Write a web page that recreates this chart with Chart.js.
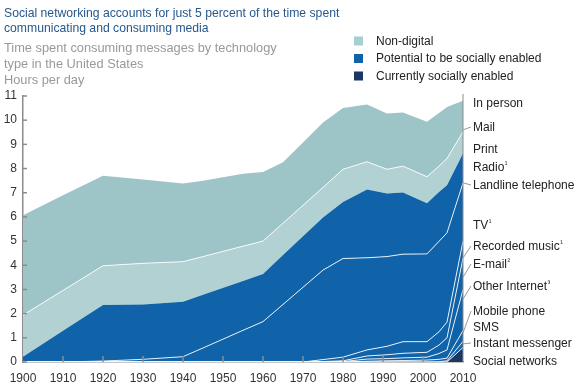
<!DOCTYPE html>
<html>
<head>
<meta charset="utf-8">
<script src="https://cdn.jsdelivr.net/npm/chart.js@4.4.1/dist/chart.umd.min.js"></script>
<style>
  html, body { margin: 0; padding: 0; background: #fff; }
  #wrap { width: 580px; height: 388px; position: relative; }
</style>
</head>
<body>
<div id="wrap"><canvas id="chart" width="580" height="388"></canvas></div>
<script>
// Hours per day (stacked, bottom to top)
var years = [1900, 1910, 1920, 1930, 1940, 1945, 1955, 1960, 1965, 1970, 1975, 1980, 1986, 1991, 1995, 2001, 2004, 2006, 2010];

var socialNetworks   = [0, 0, 0, 0, 0, 0, 0, 0, 0, 0, 0, 0, 0, 0, 0, 0, 0, 0, 0.6];
var instantMessenger = [0, 0, 0, 0, 0, 0, 0, 0, 0, 0, 0, 0, 0, 0, 0, 0, 0.01, 0.05, 0.25];
var sms              = [0, 0, 0, 0, 0, 0, 0, 0, 0, 0, 0, 0, 0.03, 0.05, 0.06, 0.08, 0.10, 0.11, 0.45];
var mobilePhone      = [0, 0, 0, 0, 0, 0, 0, 0, 0, 0, 0, 0.02, 0.09, 0.09, 0.11, 0.12, 0.24, 0.34, 1.7];
var otherInternet    = [0, 0, 0, 0, 0, 0, 0, 0, 0, 0, 0.02, 0.03, 0.13, 0.16, 0.19, 0.2, 0.35, 0.5, 1.3];
var emailAndMusic    = [0, 0, 0, 0, 0, 0, 0, 0, 0, 0, 0.08, 0.15, 0.25, 0.35, 0.48, 0.44, 0.55, 0.65, 0.7];
var tv               = [0, 0, 0.04, 0.11, 0.22, 0.58, 1.31, 1.67, 2.38, 3.09, 3.7, 4.08, 3.81, 3.71, 3.62, 3.63, 3.74, 3.69, 2.41];
var radioAndPhone    = [0.22, 1.29, 2.32, 2.27, 2.27, 2.2, 2.04, 1.97, 2.04, 2.11, 2.18, 2.34, 2.82, 2.61, 2.55, 2.09, 2.04, 1.97, 1.21];
var printAndMail     = [1.72, 1.67, 1.62, 1.7, 1.66, 1.58, 1.44, 1.36, 1.32, 1.28, 1.24, 1.35, 1.15, 1.0, 1.09, 1.1, 1.07, 1.11, 0.9];
var inPerson         = [4.13, 3.94, 3.72, 3.47, 3.23, 3.14, 2.99, 2.86, 2.52, 2.6, 2.68, 2.53, 2.37, 2.31, 2.22, 2.27, 2.2, 2.13, 1.28];

var yTicks = [0, 1, 2, 3, 4, 5, 6, 7, 8, 9, 10, 11];
var xTicks = [1900, 1910, 1920, 1930, 1940, 1950, 1960, 1970, 1980, 1990, 2000, 2010];

var titleLines = ['Social networking accounts for just 5 percent of the time spent',
                  'communicating and consuming media'];
var subtitleLines = ['Time spent consuming messages by technology',
                     'type in the United States', 'Hours per day'];

// right-hand labels: text, superscript, label y, leader target (hours at 2010) or null
var sideLabels = [
  ['In person', '', 103, null],
  ['Mail', '', 127, 9.6],
  ['Print', '', 149, null],
  ['Radio', '\u00b9', 167, null],
  ['Landline telephone', '', 185, 7.41],
  ['TV', '\u00b9', 225, null],
  ['Recorded music', '\u00b9', 246, 4.3],
  ['E-mail', '\u00b2', 264, 3.5],
  ['Other Internet', '\u00b3', 286, 2.6],
  ['Mobile phone', '', 311, 1.2],
  ['SMS', '', 327, null],
  ['Instant messenger', '', 343, 0.75],
  ['Social networks', '', 361, null]
];

var TEAL = '#9dc4c6', LIGHT_TEAL = '#b2d1d3', BLUE = '#1063a9', NAVY = '#1b3764';
var WHITE_LINE = 'rgba(255,255,255,0.85)';
var FONT = '"Liberation Sans", Arial, sans-serif';

function series(label, values, color, lineColor, lineWidth, fill) {
  return {
    label: label,
    data: years.map(function (y, i) { return { x: y, y: values[i] }; }),
    backgroundColor: color,
    borderColor: lineColor,
    borderWidth: lineWidth,
    fill: fill,
    pointRadius: 0,
    tension: 0
  };
}

var datasets = [
  series('Social networks', socialNetworks, NAVY, WHITE_LINE, 1, 'origin'),
  series('Instant messenger', instantMessenger, BLUE, WHITE_LINE, 1, '-1'),
  series('SMS', sms, BLUE, WHITE_LINE, 1, '-1'),
  series('Mobile phone', mobilePhone, BLUE, WHITE_LINE, 1, '-1'),
  series('Other Internet', otherInternet, BLUE, WHITE_LINE, 1, '-1'),
  series('E-mail / Recorded music', emailAndMusic, BLUE, WHITE_LINE, 1, '-1'),
  series('TV', tv, BLUE, WHITE_LINE, 1, '-1'),
  series('Radio / Landline telephone', radioAndPhone, BLUE, BLUE, 0, '-1'),
  series('Print / Mail', printAndMail, LIGHT_TEAL, WHITE_LINE, 1, '-1'),
  series('In person', inPerson, TEAL, TEAL, 0, '-1')
];

// inward ticks, right frame line, titles, legend and end labels
var decorations = {
  id: 'decorations',
  afterDatasetsDraw: function (chart) {
    var ctx = chart.ctx, xs = chart.scales.x, ys = chart.scales.y, a = chart.chartArea;
    ctx.save();
    ctx.strokeStyle = '#8c8c8c';
    ctx.lineWidth = 1.5;
    xTicks.forEach(function (t) {
      if (t === 1900 || t === 2010) return;
      var px = xs.getPixelForValue(t);
      ctx.beginPath(); ctx.moveTo(px, a.bottom); ctx.lineTo(px, a.bottom - 6); ctx.stroke();
    });
    yTicks.forEach(function (t) {
      var py = ys.getPixelForValue(t);
      ctx.beginPath(); ctx.moveTo(a.left, py); ctx.lineTo(a.left + 4, py); ctx.stroke();
    });
    ctx.lineWidth = 1;
    ctx.strokeStyle = '#8c8c8c';
    ctx.beginPath(); ctx.moveTo(a.right, a.top - 2); ctx.lineTo(a.right, a.bottom); ctx.stroke();

    // titles
    ctx.textBaseline = 'alphabetic';
    ctx.textAlign = 'left';
    ctx.font = '12.2px ' + FONT;
    ctx.fillStyle = '#27588c';
    ctx.fillText(titleLines[0], 4, 16.5);
    ctx.fillText(titleLines[1], 4, 32);
    ctx.font = '12.8px ' + FONT;
    ctx.fillStyle = '#999999';
    ctx.fillText(subtitleLines[0], 4, 52);
    ctx.fillText(subtitleLines[1], 4, 67.5);
    ctx.fillText(subtitleLines[2], 4, 83.5);

    // legend
    var legend = [['Non-digital', '#a6cfd2', 41], ['Potential to be socially enabled', BLUE, 58.5], ['Currently socially enabled', NAVY, 76]];
    ctx.font = '12px ' + FONT;
    ctx.textBaseline = 'middle';
    legend.forEach(function (l) {
      ctx.fillStyle = l[1];
      ctx.fillRect(354, l[2] - 4.5, 9, 9);
      ctx.fillStyle = '#222';
      ctx.fillText(l[0], 376, l[2] + 0.5);
    });

    // end labels with leader lines
    sideLabels.forEach(function (s) {
      ctx.font = '12px ' + FONT;
      ctx.fillStyle = '#222';
      ctx.fillText(s[0], 473, s[2] + 1);
      if (s[1]) {
        var w = ctx.measureText(s[0]).width;
        ctx.font = '8px ' + FONT;
        ctx.fillText(s[1], 473 + w + 0.5, s[2] - 2);
      }
      if (s[3] !== null) {
        ctx.strokeStyle = '#999';
        ctx.lineWidth = 1;
        ctx.beginPath();
        ctx.moveTo(a.right, ys.getPixelForValue(s[3]));
        ctx.lineTo(471, s[2]);
        ctx.stroke();
      }
    });
    ctx.restore();
  }
};

new Chart(document.getElementById('chart'), {
  type: 'line',
  data: { datasets: datasets },
  plugins: [decorations],
  options: {
    responsive: false,
    animation: false,
    devicePixelRatio: 1,
    layout: { padding: { top: 96, right: 117, left: 0, bottom: 0 } },
    plugins: { legend: { display: false }, tooltip: { enabled: false } },
    scales: {
      x: {
        type: 'linear', min: 1900, max: 2010, z: 1,
        afterFit: function (s) { s.height = 26; },
        afterBuildTicks: function (s) { s.ticks = xTicks.map(function (v) { return { value: v }; }); },
        ticks: { padding: 9, color: '#333', font: { family: FONT, size: 12 },
                 maxRotation: 0, autoSkip: false,
                 callback: function (v) { return String(v); } },
        grid: { display: false, drawTicks: false },
        border: { display: true, color: '#8c8c8c', width: 1.5 }
      },
      y: {
        stacked: true, min: 0, max: 11, z: 1,
        afterFit: function (s) { s.width = 23; },
        afterBuildTicks: function (s) { s.ticks = yTicks.map(function (v) { return { value: v }; }); },
        ticks: { padding: 6, color: '#333', font: { family: FONT, size: 12 } },
        grid: { display: false, drawTicks: false },
        border: { display: true, color: '#8c8c8c', width: 1.5 }
      }
    }
  }
});
</script>
</body>
</html>
